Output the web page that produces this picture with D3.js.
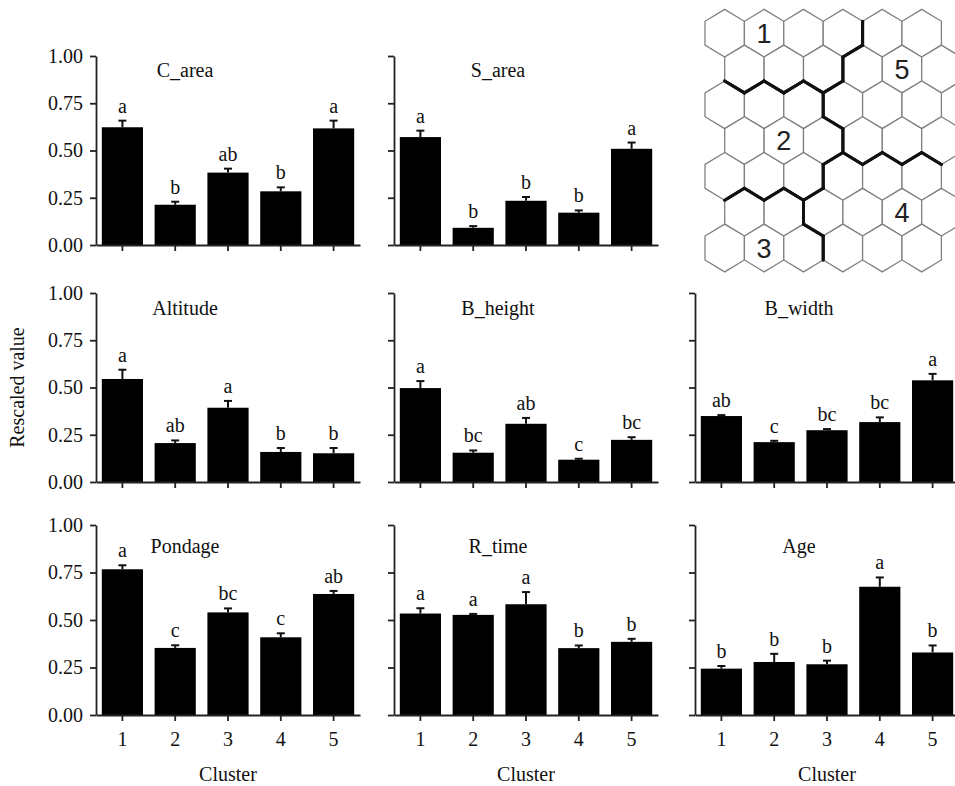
<!DOCTYPE html>
<html>
<head>
<meta charset="utf-8">
<script src="https://cdn.jsdelivr.net/npm/d3@7"></script>
<style>
  body { margin: 0; background: #fff; }
  svg text { font-family: "Liberation Serif", "Times New Roman", Times, "DejaVu Serif", serif; }
  svg text.hexnum { font-family: "Liberation Sans", Arial, sans-serif; }
</style>
</head>
<body>
<div id="chart"></div>
<script>
// Data (mean rescaled value, SE and significance letters per cluster)
const clusters = ["1", "2", "3", "4", "5"];
const yTicks = [0, 0.25, 0.5, 0.75, 1];

const cArea = [0.623, 0.213, 0.383, 0.284, 0.617];
const cAreaSe = [0.035, 0.016, 0.021, 0.021, 0.041];
const cAreaSig = ["a", "b", "ab", "b", "a"];

const sArea = [0.571, 0.091, 0.234, 0.171, 0.509];
const sAreaSe = [0.034, 0.009, 0.020, 0.012, 0.033];
const sAreaSig = ["a", "b", "b", "b", "a"];

const altitude = [0.545, 0.206, 0.393, 0.159, 0.152];
const altitudeSe = [0.049, 0.014, 0.036, 0.021, 0.028];
const altitudeSig = ["a", "ab", "a", "b", "b"];

const bHeight = [0.497, 0.155, 0.308, 0.118, 0.223];
const bHeightSe = [0.037, 0.012, 0.031, 0.005, 0.014];
const bHeightSig = ["a", "bc", "ab", "c", "bc"];

const bWidth = [0.349, 0.211, 0.274, 0.317, 0.538];
const bWidthSe = [0.005, 0.007, 0.006, 0.025, 0.034];
const bWidthSig = ["ab", "c", "bc", "bc", "a"];

const pondage = [0.767, 0.353, 0.540, 0.409, 0.637];
const pondageSe = [0.021, 0.014, 0.021, 0.021, 0.016];
const pondageSig = ["a", "c", "bc", "c", "ab"];

const rTime = [0.534, 0.527, 0.583, 0.352, 0.385];
const rTimeSe = [0.028, 0.005, 0.064, 0.014, 0.016];
const rTimeSig = ["a", "a", "a", "b", "b"];

const age = [0.244, 0.279, 0.267, 0.675, 0.329];
const ageSe = [0.014, 0.043, 0.019, 0.049, 0.037];
const ageSig = ["b", "b", "b", "a", "b"];

// SOM map: cluster of each hexagon (odd rows shifted right)
const clusterGrid = [
  [1, 1, 1, 1, 5, 5],
  [1, 1, 1, 5, 5, 5],
  [2, 2, 2, 5, 5, 5],
  [2, 2, 2, 5, 5, 5],
  [2, 2, 2, 4, 4, 4],
  [3, 3, 4, 4, 4, 4],
  [3, 3, 3, 4, 4, 4]
];
const hexLabels = [
  { text: "1", row: 0, col: 1 },
  { text: "5", row: 1, col: 4 },
  { text: "2", row: 3, col: 1 },
  { text: "4", row: 5, col: 4 },
  { text: "3", row: 6, col: 1 }
];

document.addEventListener("DOMContentLoaded", () => {
  const width = 955;
  const height = 786;
  const font = "'Liberation Serif', 'Times New Roman', Times, 'DejaVu Serif', serif";

  // Layout of the 3x3 grid of panels
  const colX = [96, 394, 695];
  const rowTop = [56, 293, 525];
  const rowBottom = [245, 482, 715];
  const plotW = 264;
  const titleDx = [89, 104, 104];
  const titleDy = [21, 22, 28];

  const panels = [
    { name: "C_area", mean: cArea, se: cAreaSe, sig: cAreaSig, row: 0, col: 0 },
    { name: "S_area", mean: sArea, se: sAreaSe, sig: sAreaSig, row: 0, col: 1 },
    { name: "Altitude", mean: altitude, se: altitudeSe, sig: altitudeSig, row: 1, col: 0 },
    { name: "B_height", mean: bHeight, se: bHeightSe, sig: bHeightSig, row: 1, col: 1 },
    { name: "B_width", mean: bWidth, se: bWidthSe, sig: bWidthSig, row: 1, col: 2 },
    { name: "Pondage", mean: pondage, se: pondageSe, sig: pondageSig, row: 2, col: 0 },
    { name: "R_time", mean: rTime, se: rTimeSe, sig: rTimeSig, row: 2, col: 1 },
    { name: "Age", mean: age, se: ageSe, sig: ageSig, row: 2, col: 2 }
  ];

  const svg = d3.select("#chart")
    .append("svg")
    .attr("width", width)
    .attr("height", height);

  panels.forEach(p => {
    const x0 = colX[p.col];
    const x = d3.scaleBand()
      .domain(clusters)
      .range([x0, x0 + plotW])
      .paddingInner(0.22)
      .paddingOuter(0.11);
    const y = d3.scaleLinear()
      .domain([0, 1])
      .range([rowBottom[p.row], rowTop[p.row]]);

    const g = svg.append("g");
    const rows = clusters.map((c, i) => ({ c, v: p.mean[i], se: p.se[i], sig: p.sig[i] }));

    // Bars
    g.selectAll("rect")
      .data(rows)
      .enter()
      .append("rect")
      .attr("x", d => x(d.c))
      .attr("y", d => y(d.v))
      .attr("width", x.bandwidth())
      .attr("height", d => y(0) - y(d.v))
      .attr("fill", "#000");

    // Error bars (upper half only)
    const cx = d => x(d.c) + x.bandwidth() / 2;
    g.selectAll("line.err")
      .data(rows)
      .enter()
      .append("line")
      .attr("class", "err")
      .attr("x1", cx)
      .attr("x2", cx)
      .attr("y1", d => y(d.v))
      .attr("y2", d => y(d.v + d.se))
      .attr("stroke", "#111")
      .attr("stroke-width", 2);

    g.selectAll("line.cap")
      .data(rows)
      .enter()
      .append("line")
      .attr("class", "cap")
      .attr("x1", d => cx(d) - 4)
      .attr("x2", d => cx(d) + 4)
      .attr("y1", d => y(d.v + d.se))
      .attr("y2", d => y(d.v + d.se))
      .attr("stroke", "#111")
      .attr("stroke-width", 2);

    // Significance letters
    g.selectAll("text.sig")
      .data(rows)
      .enter()
      .append("text")
      .attr("class", "sig")
      .attr("x", cx)
      .attr("y", d => y(d.v + d.se) - 8)
      .attr("text-anchor", "middle")
      .attr("font-family", font)
      .attr("font-size", 20)
      .attr("fill", "#111")
      .text(d => d.sig);

    // Axes
    const yAxis = g.append("g")
      .attr("transform", `translate(${x0},0)`)
      .call(d3.axisLeft(y)
        .tickValues(yTicks)
        .tickSize(6)
        .tickSizeOuter(0)
        .tickPadding(7)
        .tickFormat(p.col === 0 ? d3.format(".2f") : () => ""));

    const xAxis = g.append("g")
      .attr("transform", `translate(0,${y(0)})`)
      .call(d3.axisBottom(x)
        .tickSize(6)
        .tickSizeOuter(0)
        .tickPadding(11)
        .tickFormat(p.row === 2 ? d => d : () => ""));

    [yAxis, xAxis].forEach(ax => {
      ax.attr("font-family", font).attr("font-size", 20);
      ax.selectAll("path, line").attr("stroke", "#222").attr("stroke-width", 1.8);
      ax.selectAll("text").attr("fill", "#111").attr("font-family", font);
    });

    // Panel title
    g.append("text")
      .attr("x", x0 + titleDx[p.col])
      .attr("y", rowTop[p.row] + titleDy[p.row])
      .attr("text-anchor", "middle")
      .attr("font-family", font)
      .attr("font-size", 20)
      .attr("fill", "#111")
      .text(p.name);

    if (p.row === 2) {
      g.append("text")
        .attr("x", x(clusters[2]) + x.bandwidth() / 2)
        .attr("y", 781)
        .attr("text-anchor", "middle")
        .attr("font-family", font)
        .attr("font-size", 20)
        .attr("fill", "#111")
        .text("Cluster");
    }
  });

  // Y axis title
  svg.append("text")
    .attr("transform", `translate(24,${(rowTop[1] + rowBottom[1]) / 2}) rotate(-90)`)
    .attr("text-anchor", "middle")
    .attr("font-family", font)
    .attr("font-size", 20)
    .attr("fill", "#111")
    .text("Rescaled value");

  // Hexagonal SOM map
  const hx = d3.scaleLinear().domain([0, 5]).range([724.7, 921.7]);
  const hy = d3.scaleLinear().domain([0, 6]).range([33.2, 248]);
  const hexW = hx(1) - hx(0);
  const rv = (hy(1) - hy(0)) / 1.5;
  const corners = [
    [0, -rv], [hexW / 2, -rv / 2], [hexW / 2, rv / 2],
    [0, rv], [-hexW / 2, rv / 2], [-hexW / 2, -rv / 2]
  ];
  const centre = (r, c) => [hx(c + (r % 2) * 0.5), hy(r)];
  // neighbour across edge k (corner k -> k+1): NE, E, SE, SW, W, NW
  const neighbours = (r, c) => r % 2 === 0
    ? [[r - 1, c], [r, c + 1], [r + 1, c], [r + 1, c - 1], [r, c - 1], [r - 1, c - 1]]
    : [[r - 1, c + 1], [r, c + 1], [r + 1, c + 1], [r + 1, c], [r, c - 1], [r - 1, c]];

  const hexes = [];
  clusterGrid.forEach((rowArr, r) => rowArr.forEach((k, c) => hexes.push({ r, c, k })));

  const hexG = svg.append("g");
  const line = d3.line();

  hexG.selectAll("path.hex")
    .data(hexes)
    .enter()
    .append("path")
    .attr("class", "hex")
    .attr("d", d => {
      const [px, py] = centre(d.r, d.c);
      return line(corners.map(([dx, dy]) => [px + dx, py + dy])) + "Z";
    })
    .attr("fill", "#fff")
    .attr("stroke", "#808080")
    .attr("stroke-width", 1.3);

  // Thick borders between different clusters
  const borders = [];
  hexes.forEach(h => {
    const [px, py] = centre(h.r, h.c);
    neighbours(h.r, h.c).forEach(([nr, nc], k) => {
      if (nr < 0 || nr >= clusterGrid.length || nc < 0 || nc >= clusterGrid[0].length) return;
      if (clusterGrid[nr][nc] === h.k) return;
      const a = corners[k];
      const b = corners[(k + 1) % 6];
      borders.push([[px + a[0], py + a[1]], [px + b[0], py + b[1]]]);
    });
  });

  hexG.selectAll("path.border")
    .data(borders)
    .enter()
    .append("path")
    .attr("class", "border")
    .attr("d", d => line(d))
    .attr("stroke", "#111")
    .attr("stroke-width", 3)
    .attr("stroke-linecap", "round");

  hexG.selectAll("text")
    .data(hexLabels)
    .enter()
    .append("text")
    .attr("class", "hexnum")
    .attr("x", d => centre(d.row, d.col)[0])
    .attr("y", d => centre(d.row, d.col)[1])
    .attr("dy", "0.36em")
    .attr("text-anchor", "middle")
    .attr("font-family", "'Liberation Sans', Arial, sans-serif")
    .attr("font-size", 27)
    .attr("fill", "#222")
    .text(d => d.text);
});
</script>
</body>
</html>
